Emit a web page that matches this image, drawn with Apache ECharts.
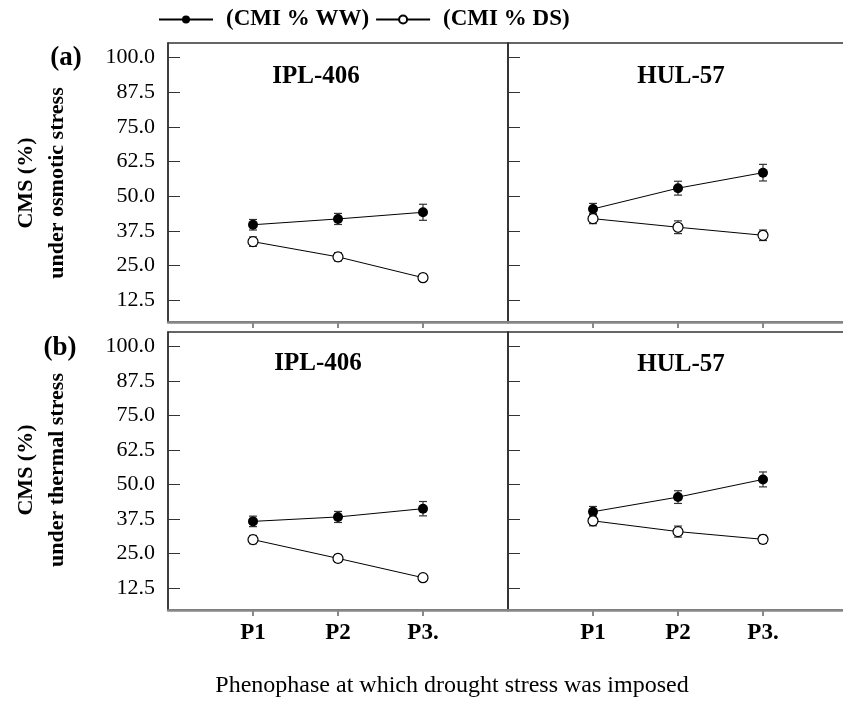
<!DOCTYPE html>
<html>
<head>
<meta charset="utf-8">
</head>
<body style="margin:0">
<div id="main" style="width:843px;height:712px"></div>
<script src="https://cdn.jsdelivr.net/npm/echarts@6/dist/echarts.min.js"></script>
<script type="text/javascript">
// phenophases and y ticks
var phases = ['P1', 'P2', 'P3.'];
var yTicks = [12.5, 25, 37.5, 50, 62.5, 75, 87.5, 100];

// osmotic stress, IPL-406
var osmIplWW = [39.7, 41.8, 44.2];
var osmIplWWErr = [1.9, 2.0, 2.9];
var osmIplDS = [33.6, 28.1, 20.6];
var osmIplDSErr = [1.7, 1.5, 1.3];
// osmotic stress, HUL-57
var osmHulWW = [45.4, 52.9, 58.5];
var osmHulWWErr = [2.0, 2.5, 3.0];
var osmHulDS = [41.9, 38.8, 35.9];
var osmHulDSErr = [1.8, 2.3, 1.9];
// thermal stress, IPL-406
var thIplWW = [36.7, 38.3, 41.3];
var thIplWWErr = [1.9, 2.0, 2.6];
var thIplDS = [30.1, 23.3, 16.3];
var thIplDSErr = [1.5, 1.4, 1.2];
// thermal stress, HUL-57
var thHulWW = [40.2, 45.5, 51.9];
var thHulWWErr = [1.9, 2.3, 2.7];
var thHulDS = [36.9, 33.0, 30.2];
var thHulDSErr = [1.8, 2.0, 1.5];

var panels = [
    {ww: osmIplWW, wwErr: osmIplWWErr, ds: osmIplDS, dsErr: osmIplDSErr},
    {ww: osmHulWW, wwErr: osmHulWWErr, ds: osmHulDS, dsErr: osmHulDSErr},
    {ww: thIplWW, wwErr: thIplWWErr, ds: thIplDS, dsErr: thIplDSErr},
    {ww: thHulWW, wwErr: thHulWWErr, ds: thHulDS, dsErr: thHulDSErr}
];
var gridPos = [
    {left: 168, top: 43, width: 340, height: 279},
    {left: 508, top: 43, width: 340, height: 279},
    {left: 168, top: 332, width: 340, height: 278},
    {left: 508, top: 332, width: 340, height: 278}
];

var serif = 'Liberation Serif';

function pts(vals) {
    return vals.map(function (v, i) { return [i + 1, v]; });
}
function errs(vals, e) {
    return vals.map(function (v, i) { return [i + 1, v - e[i], v + e[i]]; });
}
function errItem(params, api) {
    var x = api.value(0);
    var lo = api.coord([x, api.value(1)]);
    var hi = api.coord([x, api.value(2)]);
    var w = 4;
    var st = {stroke: '#333', lineWidth: 1.2};
    return {type: 'group', children: [
        {type: 'line', shape: {x1: lo[0], y1: lo[1], x2: hi[0], y2: hi[1]}, style: st},
        {type: 'line', shape: {x1: lo[0] - w, y1: lo[1], x2: lo[0] + w, y2: lo[1]}, style: st},
        {type: 'line', shape: {x1: hi[0] - w, y1: hi[1], x2: hi[0] + w, y2: hi[1]}, style: st}
    ]};
}

var grids = [], xAxes = [], yAxes = [], series = [];
gridPos.forEach(function (g, i) {
    grids.push({left: g.left, top: g.top, width: g.width, height: g.height,
        show: true, borderColor: '#333', borderWidth: 1.5, containLabel: false,
        outerBoundsMode: 'none'});
    xAxes.push({
        type: 'value', gridIndex: i, min: 0, max: 4,
        splitLine: {show: false},
        axisLine: {lineStyle: {color: '#888', width: 2.5}},
        axisTick: {customValues: [1, 2, 3], length: 6, lineStyle: {color: '#888', width: 2}},
        axisLabel: {
            show: i >= 2, customValues: [1, 2, 3], margin: 12,
            formatter: function (v) { return phases[v - 1]; },
            fontFamily: serif, fontWeight: 'bold', fontSize: 23, color: '#000'
        }
    });
    yAxes.push({
        type: 'value', gridIndex: i, min: 4.6, max: 105.3,
        splitLine: {show: false},
        axisLine: {show: true, lineStyle: {color: '#333', width: 1.5}},
        axisTick: {customValues: yTicks, inside: true, length: 12, lineStyle: {color: '#333', width: 1}},
        axisLabel: {
            show: i % 2 === 0, customValues: yTicks, margin: 13,
            formatter: function (v) { return v.toFixed(1); },
            fontFamily: serif, fontSize: 22, color: '#000'
        }
    });
    var p = panels[i];
    series.push({
        type: 'custom', xAxisIndex: i, yAxisIndex: i, renderItem: errItem,
        encode: {x: 0, y: [1, 2]}, data: errs(p.ww, p.wwErr), z: 1, silent: true
    });
    series.push({
        type: 'custom', xAxisIndex: i, yAxisIndex: i, renderItem: errItem,
        encode: {x: 0, y: [1, 2]}, data: errs(p.ds, p.dsErr), z: 1, silent: true
    });
    series.push({
        name: '(CMI % WW)', type: 'line', xAxisIndex: i, yAxisIndex: i,
        data: pts(p.ww), symbol: 'circle', symbolSize: 10, z: 3,
        lineStyle: {color: '#000', width: 1},
        itemStyle: {color: '#000'}
    });
    series.push({
        name: '(CMI % DS)', type: 'line', xAxisIndex: i, yAxisIndex: i,
        data: pts(p.ds), symbol: 'circle', symbolSize: 10, z: 3,
        lineStyle: {color: '#000', width: 1},
        itemStyle: {color: '#fff', borderColor: '#000', borderWidth: 1.2}
    });
});

function txt(x, y, s, size, weight, rot) {
    return {
        type: 'text', x: x, y: y, rotation: rot || 0,
        style: {text: s, fontFamily: serif, fontSize: size, fontWeight: weight,
            fill: '#000', textAlign: 'center', textVerticalAlign: 'middle'}
    };
}

var option = {
    animation: false,
    backgroundColor: '#fff',
    legend: {
        data: ['(CMI % WW)', '(CMI % DS)'],
        left: 153, top: 3, itemWidth: 54, itemHeight: 10, itemGap: 6,
        textStyle: {fontFamily: serif, fontWeight: 'bold', fontSize: 23, color: '#000', padding: [0, 0, 0, 8]}
    },
    grid: grids,
    xAxis: xAxes,
    yAxis: yAxes,
    series: series,
    graphic: [
        txt(316, 77, 'IPL-406', 25, 'bold'),
        txt(681, 77, 'HUL-57', 25, 'bold'),
        txt(318, 364, 'IPL-406', 25, 'bold'),
        txt(681, 365, 'HUL-57', 25, 'bold'),
        txt(66, 58, '(a)', 27, 'bold'),
        txt(60, 348, '(b)', 27, 'bold'),
        txt(26, 183, 'CMS (%)', 22, 'bold', Math.PI / 2),
        txt(57, 183, 'under osmotic stress', 22, 'bold', Math.PI / 2),
        txt(26, 470, 'CMS (%)', 22, 'bold', Math.PI / 2),
        txt(57, 470, 'under thermal stress', 22, 'bold', Math.PI / 2),
        txt(452, 686, 'Phenophase at which drought stress was imposed', 24, 'normal')
    ]
};

var chart = echarts.init(document.getElementById('main'));
chart.setOption(option);
</script>
</body>
</html>
